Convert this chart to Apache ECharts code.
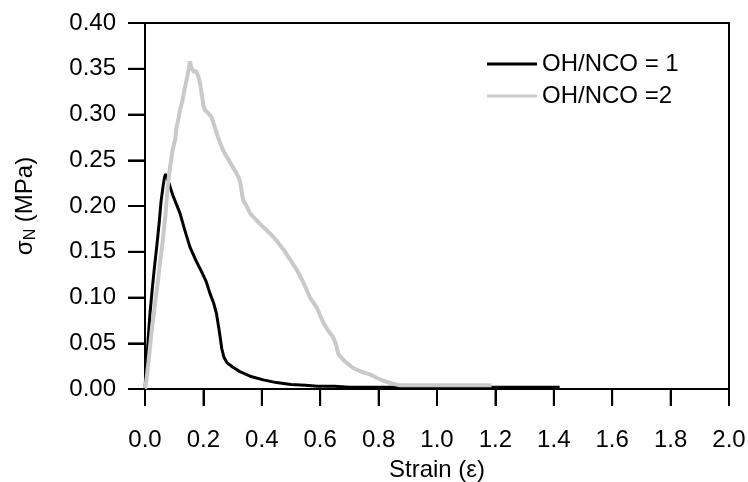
<!DOCTYPE html>
<html>
<head>
<meta charset="utf-8">
<script src="https://cdn.jsdelivr.net/npm/echarts@6/dist/echarts.min.js"></script>
<style>
html,body{margin:0;padding:0;background:#fff;}
#chart{width:748px;height:482px;}
</style>
</head>
<body>
<div id="chart"></div>
<script>
const seriesNames = ['OH/NCO = 1', 'OH/NCO =2'];
const xTickValues = [0, 0.2, 0.4, 0.6, 0.8, 1.0, 1.2, 1.4, 1.6, 1.8, 2.0];
const yTickValues = [0, 0.05, 0.10, 0.15, 0.20, 0.25, 0.30, 0.35, 0.40];

const strainStress1 = [
  [0,0],[0.003,0.018],[0.006,0.03],[0.012,0.06],[0.017,0.082],[0.025,0.11],[0.033,0.135],
  [0.04,0.155],[0.048,0.18],[0.055,0.205],[0.062,0.222],[0.067,0.232],[0.071,0.235],
  [0.075,0.233],[0.079,0.228],[0.085,0.222],[0.095,0.212],[0.105,0.204],[0.12,0.192],
  [0.135,0.175],[0.154,0.155],[0.175,0.14],[0.194,0.128],[0.21,0.117],[0.223,0.104],
  [0.235,0.094],[0.245,0.082],[0.255,0.062],[0.263,0.044],[0.27,0.035],[0.28,0.029],
  [0.3,0.024],[0.325,0.019],[0.36,0.014],[0.405,0.010],[0.45,0.007],[0.50,0.005],
  [0.55,0.004],[0.59,0.003],[0.65,0.003],[0.7,0.002],[0.8,0.002],[0.9,0.002],[1.0,0.002],
  [1.1,0.002],[1.2,0.002],[1.3,0.002],[1.42,0.002]
];

const strainStress2 = [
  [0,0],[0.005,0.01],[0.012,0.03],[0.023,0.064],[0.035,0.095],[0.045,0.12],[0.051,0.137],
  [0.06,0.16],[0.07,0.19],[0.079,0.225],[0.086,0.243],[0.095,0.262],[0.103,0.272],
  [0.108,0.286],[0.115,0.296],[0.12,0.305],[0.128,0.315],[0.137,0.33],[0.145,0.342],
  [0.15,0.35],[0.154,0.358],[0.158,0.352],[0.163,0.354],[0.168,0.346],[0.175,0.348],
  [0.182,0.342],[0.188,0.335],[0.194,0.323],[0.2,0.31],[0.205,0.305],[0.215,0.302],
  [0.228,0.297],[0.24,0.285],[0.25,0.275],[0.262,0.265],[0.274,0.257],[0.287,0.25],
  [0.3,0.243],[0.313,0.236],[0.325,0.228],[0.33,0.226],[0.336,0.206],[0.348,0.2],
  [0.36,0.192],[0.38,0.185],[0.405,0.177],[0.428,0.17],[0.451,0.162],[0.475,0.152],
  [0.5,0.14],[0.52,0.13],[0.54,0.118],[0.565,0.1],[0.588,0.089],[0.61,0.073],[0.625,0.065],
  [0.645,0.056],[0.655,0.048],[0.662,0.038],[0.685,0.03],[0.713,0.023],[0.74,0.019],
  [0.77,0.016],[0.795,0.012],[0.816,0.009],[0.845,0.006],[0.873,0.004],[0.92,0.004],
  [0.97,0.004],[1.02,0.004],[1.07,0.004],[1.12,0.004],[1.187,0.004]
];

const FONT = "'Liberation Sans', Arial, sans-serif";
const FS = 24;
const TICK_LEN = 17;
const xMin = xTickValues[0], xMax = xTickValues[xTickValues.length - 1];
const yMin = yTickValues[0], yMax = yTickValues[yTickValues.length - 1];
const xStep = xTickValues[1] - xTickValues[0];
const yStep = yTickValues[1] - yTickValues[0];

function mainLine() { return {show: true, lineStyle: {color: '#000', width: 2}}; }
function tickOut() { return {show: true, length: TICK_LEN, lineStyle: {color: '#000', width: 2}}; }
function hiddenSplit() { return {show: true, lineStyle: {color: 'rgba(0,0,0,0)', width: 0}}; }
function frameAxis(extra) {
  return Object.assign({
    type: 'value',
    axisLine: {show: true, onZero: false, lineStyle: {color: '#000', width: 2}},
    axisTick: {show: false}, axisLabel: {show: false}, splitLine: {show: false}
  }, extra);
}

// tick marks placed through the axes' own scales (fallback in case axisTick is not rendered)
const xTickMarks = xTickValues.map(v => [v, yMin]);
const yTickMarks = yTickValues.map(v => [xMin, v]);

const chart = echarts.init(document.getElementById('chart'));
chart.setOption({
  animation: false,
  backgroundColor: '#fff',
  textStyle: {fontFamily: FONT},
  grid: {left: 145, right: 19, top: 23, bottom: 93, outerBoundsMode: 'none'},
  legend: {
    orient: 'vertical', left: 482, top: 47, itemWidth: 50, itemHeight: 3, itemGap: 8,
    icon: 'rect',
    textStyle: {fontSize: FS, color: '#000', fontFamily: FONT},
    data: seriesNames
  },
  xAxis: [{
    type: 'value', position: 'bottom', min: xMin, max: xMax, interval: xStep,
    axisLine: mainLine(), axisTick: tickOut(),
    axisLabel: {show: true, fontSize: FS, color: '#000', margin: 39, fontFamily: FONT, formatter: v => v.toFixed(1)},
    splitLine: hiddenSplit(),
    name: 'Strain (ε)', nameLocation: 'middle', nameGap: 69,
    nameTextStyle: {fontSize: FS, color: '#000', fontFamily: FONT}
  }, frameAxis({position: 'top', min: xMin, max: xMax, interval: xStep})],
  yAxis: [{
    type: 'value', position: 'left', min: yMin, max: yMax, interval: yStep,
    axisLine: mainLine(), axisTick: tickOut(),
    axisLabel: {show: true, fontSize: FS, color: '#000', margin: 29, fontFamily: FONT, formatter: v => v.toFixed(2)},
    splitLine: hiddenSplit(),
    name: '{a|σ}{s|N}{a| (MPa)}', nameLocation: 'middle', nameGap: 106,
    nameTextStyle: {
      color: '#000', fontFamily: FONT,
      rich: {
        a: {fontSize: FS, lineHeight: 28, color: '#000', fontFamily: FONT},
        s: {fontSize: 16, lineHeight: 16, verticalAlign: 'bottom', color: '#000', fontFamily: FONT}
      }
    }
  }, frameAxis({position: 'right', min: yMin, max: yMax, interval: yStep})],
  series: [
    {name: seriesNames[0], type: 'line', data: strainStress1, showSymbol: false, symbol: 'none',
     lineStyle: {color: '#000', width: 3}, itemStyle: {color: '#000'}, z: 2},
    {name: seriesNames[1], type: 'line', data: strainStress2, showSymbol: false, symbol: 'none',
     lineStyle: {color: '#c9c9c9', width: 4}, itemStyle: {color: '#c9c9c9'}, z: 3},
    {name: 'xTicks', type: 'scatter', data: xTickMarks, xAxisIndex: 0, yAxisIndex: 0,
     symbol: 'rect', symbolSize: [2, TICK_LEN], symbolOffset: [0, TICK_LEN / 2],
     itemStyle: {color: '#000'}, clip: false, silent: true, z: 5},
    {name: 'yTicks', type: 'scatter', data: yTickMarks, xAxisIndex: 0, yAxisIndex: 0,
     symbol: 'rect', symbolSize: [TICK_LEN, 2], symbolOffset: [-TICK_LEN / 2, 0],
     itemStyle: {color: '#000'}, clip: false, silent: true, z: 5}
  ]
});
</script>
</body>
</html>
